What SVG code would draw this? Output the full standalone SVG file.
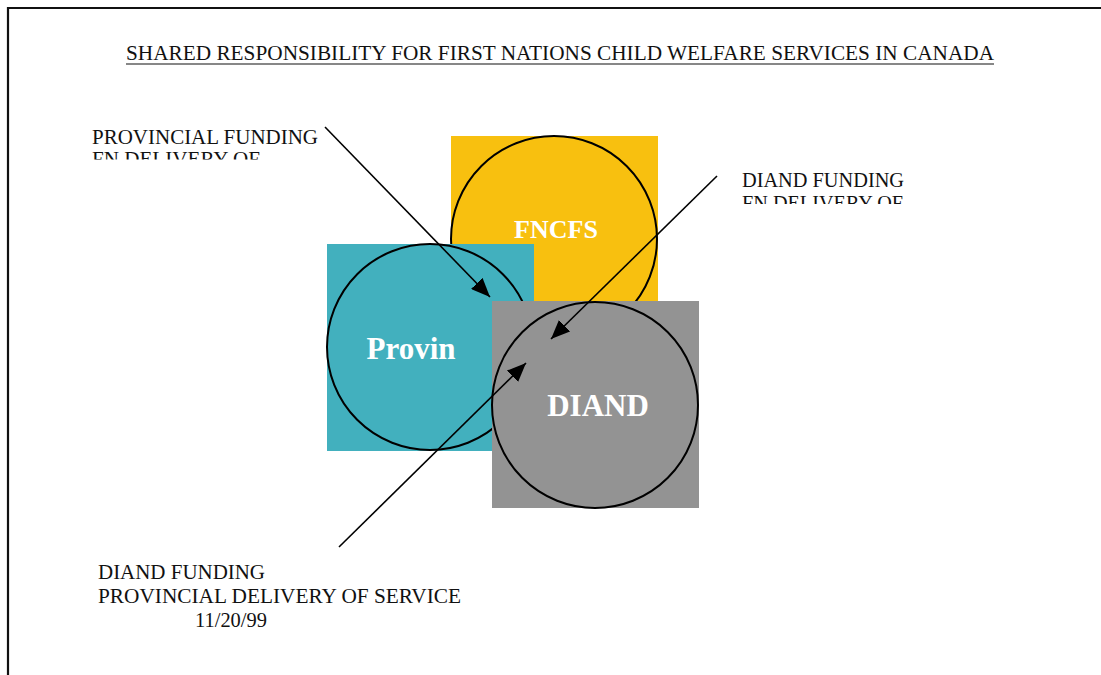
<svg xmlns="http://www.w3.org/2000/svg" width="1101" height="675" viewBox="0 0 1101 675">
<style>
.lbl{font-family:"Liberation Serif","Times New Roman",serif;font-size:21px;fill:#111}
.nt{font-family:"Liberation Serif","Times New Roman",serif;font-weight:bold;fill:#fff;text-anchor:middle}
.ring{fill:none;stroke:#000;stroke-width:2}
.conn{stroke:#000;stroke-width:1.6;fill:none;marker-end:url(#ah)}
</style>
<defs>
<marker id="ah" markerUnits="userSpaceOnUse" markerWidth="20" markerHeight="16" refX="19" refY="8" orient="auto">
<path d="M0,0 L19,8 L0,16 Z" fill="#000"/>
</marker>
<clipPath id="c1"><rect x="80" y="110" width="260" height="49.5"/></clipPath>
<clipPath id="c2"><rect x="730" y="150" width="200" height="54"/></clipPath>
</defs>
<rect width="1101" height="675" fill="#fff"/>
<path d="M8,675 V8 H1101" fill="none" stroke="#111" stroke-width="2.2"/>
<g id="title">
<text class="lbl" x="126" y="60" font-size="20" textLength="868" lengthAdjust="spacingAndGlyphs">SHARED RESPONSIBILITY FOR FIRST NATIONS CHILD WELFARE SERVICES IN CANADA</text>
<line x1="126" y1="64" x2="994" y2="64" stroke="#111" stroke-width="1.2"/>
</g>
<g id="fncfs">
<rect x="451" y="136" width="207" height="207" fill="#F8C00F"/>
<circle class="ring" cx="554" cy="239" r="103"/>
<text class="nt" x="556" y="238" font-size="26">FNCFS</text>
</g>
<g id="provin">
<rect x="327" y="244" width="207" height="207" fill="#42B0BE"/>
<circle class="ring" cx="430" cy="347" r="103"/>
<text class="nt" x="411" y="359" font-size="31">Provin</text>
</g>
<g id="diand">
<rect x="492" y="301" width="207" height="207" fill="#939393"/>
<circle class="ring" cx="595" cy="405" r="103"/>
<text class="nt" x="598" y="416" font-size="31">DIAND</text>
</g>
<g id="connectors">
<line class="conn" x1="325" y1="127" x2="490" y2="297"/>
<line class="conn" x1="717" y1="176" x2="551" y2="339"/>
<line class="conn" x1="339" y1="547" x2="526" y2="363"/>
</g>
<g id="label-prov" clip-path="url(#c1)">
<text class="lbl" x="92" y="144" textLength="226" lengthAdjust="spacingAndGlyphs">PROVINCIAL FUNDING</text>
<text class="lbl" x="92" y="166" textLength="168" lengthAdjust="spacingAndGlyphs">FN DELIVERY OF</text>
</g>
<g id="label-diand" clip-path="url(#c2)">
<text class="lbl" x="742" y="187" textLength="162" lengthAdjust="spacingAndGlyphs">DIAND FUNDING</text>
<text class="lbl" x="742" y="210" textLength="161" lengthAdjust="spacingAndGlyphs">FN DELIVERY OF</text>
</g>
<g id="label-bottom">
<text class="lbl" x="98" y="579" textLength="167" lengthAdjust="spacingAndGlyphs">DIAND FUNDING</text>
<text class="lbl" x="98" y="603" textLength="363" lengthAdjust="spacingAndGlyphs">PROVINCIAL DELIVERY OF SERVICE</text>
<text class="lbl" x="195" y="627" textLength="72" lengthAdjust="spacingAndGlyphs">11/20/99</text>
</g>
</svg>
